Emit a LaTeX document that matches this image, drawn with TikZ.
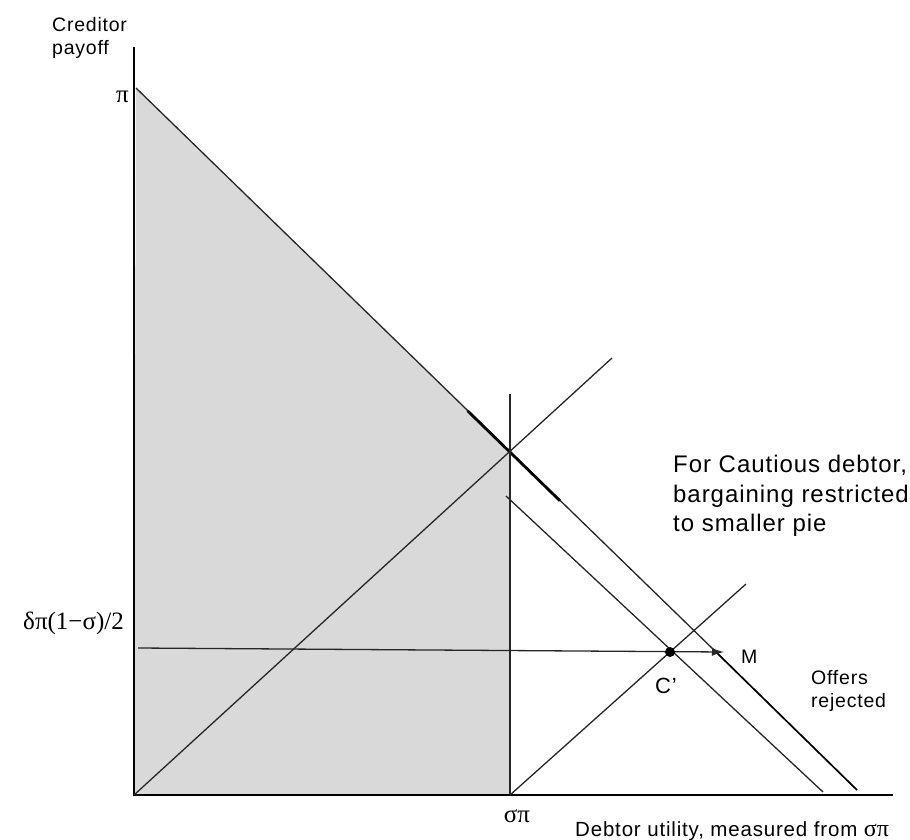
\documentclass[tikz,border=0pt]{standalone}
\usepackage{fontspec}
\setmainfont{Liberation Sans}[LetterSpace=4]
\newfontfamily\gk{Liberation Serif}
\usetikzlibrary{positioning,arrows.meta,calc}

\begin{document}
\begin{tikzpicture}[x=1pt,y=-1pt,
  curve/.style={line width=1.3pt,black!85},
  lbl/.style={inner sep=0pt,font=\fontsize{19.5}{23}\selectfont},
  glbl/.style={inner sep=0pt,font=\gk\fontsize{25}{28}\selectfont}]
\useasboundingbox (0,0) rectangle (910,840);

% key points (pixel grid, y running down)
\coordinate (O) at (134,795);
\coordinate (ytop) at (134,47);
\coordinate (xend) at (893,795);
\coordinate (P) at (136,88);
\coordinate (X) at (510,452);
\coordinate (Sp) at (510,795);
\coordinate (vtop) at (510,394);
\coordinate (dtop) at (612,358);
\coordinate (bigend) at (857,790);
\coordinate (M) at (716,652);
\coordinate (Mtip) at (724,652);
\coordinate (Cp) at (670,652);
\coordinate (stop) at (506,496);
\coordinate (send) at (823,792);
\coordinate (dtwo) at (746,584);
\coordinate (hstart) at (138,648);

% shaded region left of sigma pi
\fill[black!15] (P) -- (X) -- (Sp) -- (O) -- cycle;

% axes
\draw[curve,black] (ytop) -- (O) -- (xend);

% full pie frontier, thicker past M
\draw[curve] (P) -- (M);
\draw[line width=1.7pt] (M) -- (bigend);
\draw[line width=2.8pt] ($(P)!0.46!(bigend)$) -- ($(P)!0.588!(bigend)$);

% sigma pi line and 45 degree lines
\draw[curve] (vtop) -- (Sp);
\draw[curve] (O) -- (dtop);
\draw[curve] (Sp) -- (dtwo);

% smaller pie frontier
\draw[curve] (stop) -- (send);

% creditor offer level
\draw[curve,-{Latex[length=12pt,width=8pt]}] (hstart) -- (Mtip);
\fill (Cp) circle (5pt);

% labels
\node[lbl,align=left,anchor=north west] (ylab) at (52,17) {Creditor\\payoff};
\node[glbl,anchor=base east] (pilab) at (129,103) {π};
\node[glbl,anchor=base east] (dlab) at (124,629) {δπ(1−σ)/2};
\node[glbl,anchor=base] (splab) at (517,822) {σπ};
\node[lbl,font=\fontsize{20.5}{23}\selectfont,anchor=base west] (xlab) at (575,836) {Debtor utility, measured from {\gk\fontsize{24}{24}\selectfont σπ}};
\node[inner sep=0pt,font=\fontsize{24}{29.5}\selectfont,align=left,anchor=north west] (note) at (673,455) {For Cautious debtor,\\bargaining restricted\\to smaller pie};
\node[lbl,anchor=base west] (mlab) at (741,663) {M};
\node[inner sep=0pt,font=\fontsize{22}{22}\selectfont,anchor=base west] (clab) at (655,693) {C’};
\node[lbl,align=left,anchor=north west] (rej) at (811,670) {Offers\\rejected};

\end{tikzpicture}
\end{document}
